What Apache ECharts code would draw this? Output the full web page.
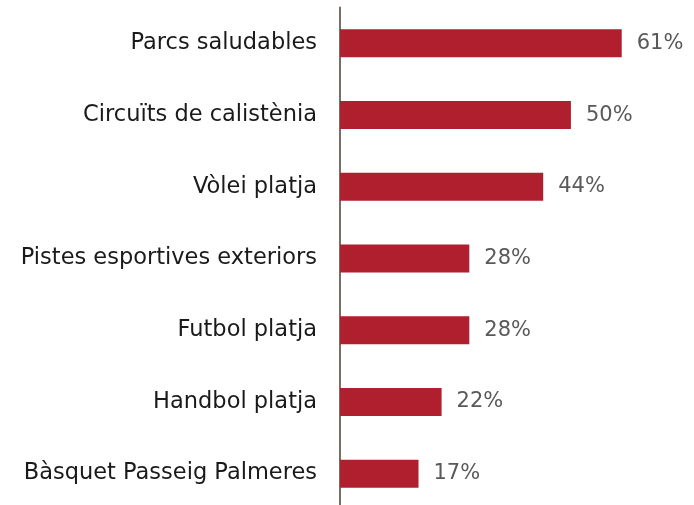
<!DOCTYPE html>
<html>
<head>
<meta charset="utf-8">
<script src="https://cdn.jsdelivr.net/npm/echarts@6/dist/echarts.min.js"></script>
<style>
  html, body { margin: 0; padding: 0; background: #fff; overflow: hidden; }
  #chart-container { width: 694px; height: 510px; }
</style>
</head>
<body>
<div id="chart-container"></div>
<script>
// categories top to bottom
const categories = [
  "Parcs saludables",
  "Circuïts de calistènia",
  "Vòlei platja",
  "Pistes esportives exteriors",
  "Futbol platja",
  "Handbol platja",
  "Bàsquet Passeig Palmeres",
];
const values = [61, 50, 44, 28, 28, 22, 17];

const chart = echarts.init(document.getElementById("chart-container"));

const option = {
  animation: false,
  grid: {
    left: 340,
    right: 3,
    top: 7.5,
    bottom: 0.5,
  },
  xAxis: {
    type: "value",
    min: 0,
    max: 76,
    show: false,
  },
  yAxis: {
    type: "category",
    data: categories,
    inverse: true,
    axisLine: { show: true, lineStyle: { color: "#7a6e63", width: 2 } },
    axisTick: { show: false },
    axisLabel: {
      margin: 23,
      color: "#1a1a1a",
      fontSize: 22.5,
      fontFamily: "DejaVu Sans",
    },
  },
  series: [
    {
      type: "bar",
      data: values,
      barWidth: 28,
      itemStyle: { color: "#b01f2e" },
      label: {
        show: true,
        position: "right",
        distance: 15,
        formatter: "{c}%",
        color: "#595959",
        fontSize: 21,
        fontFamily: "DejaVu Sans",
      },
    },
  ],
};

chart.setOption(option);
</script>
</body>
</html>
